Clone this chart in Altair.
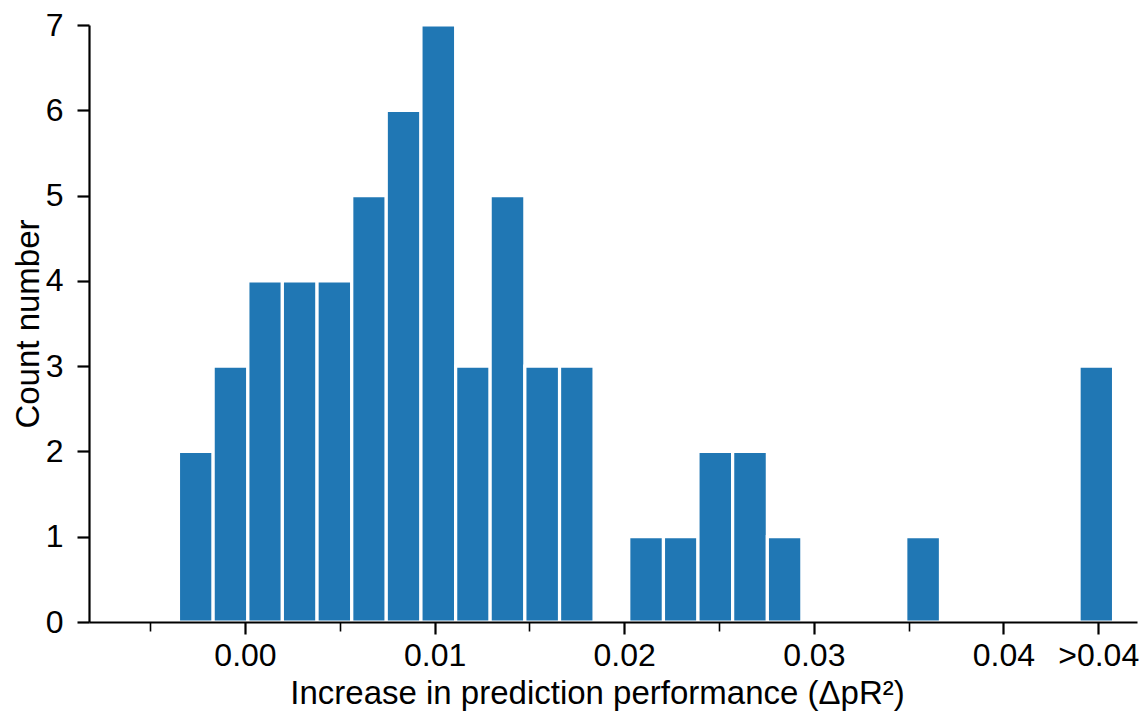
import altair as alt
import pandas as pd

# Histogram bin edges and counts per bin
bin_edges = [-0.00351, -0.00168, 0.00015, 0.00197, 0.00380, 0.00563, 0.00745, 0.00928,
             0.01111, 0.01293, 0.01476, 0.01659, 0.01841, 0.02024, 0.02207, 0.02389,
             0.02572, 0.02755, 0.02937, 0.03120, 0.03303, 0.03485, 0.03668, 0.03851,
             0.04033, 0.04216, 0.04399, 0.04581]
counts = [2, 3, 4, 4, 4, 5, 6, 7, 3, 5, 3, 3, 0, 1, 1, 2, 2, 1, 0, 0, 0, 1, 0, 0, 0, 0, 3]

x_tick_values = [-0.005, 0.0, 0.005, 0.01, 0.015, 0.02, 0.025, 0.03, 0.035, 0.04, 0.045]
overflow_label = ">0.04"
y_tick_values = [0, 1, 2, 3, 4, 5, 6, 7]

df = pd.DataFrame({"start": bin_edges[:-1], "end": bin_edges[1:], "count": counts})
df = df[df["count"] > 0]

FONT = "Liberation Sans"
major = "(abs(datum.value*100 - round(datum.value*100)) < 0.001) || (datum.value > 0.044)"

x_axis = alt.Axis(
    values=x_tick_values,
    labelExpr=f"datum.value > 0.044 ? '{overflow_label}' : ({major} ? format(datum.value, '.2f') : '')",
    title="Increase in prediction performance (\u0394pR\u00b2)",
    grid=False,
    tickSize={"condition": {"test": major, "value": 12}, "value": 9},
    tickWidth={"condition": {"test": major, "value": 2.2}, "value": 1.6},
    labelPadding=6,
    titlePadding=6,
    titleX=508,
    titleAlign="center",
    labelFlush=False,
    labelOverlap=False,
    zindex=1,
)

y_axis = alt.Axis(
    values=y_tick_values,
    format="d",
    title="Count number",
    grid=False,
    tickSize=12,
    tickWidth=2.2,
    labelPadding=14,
    titlePadding=0,
    labelFlush=False,
    zindex=1,
)

chart = alt.Chart(df).mark_bar(color="#2077b4", stroke="white", strokeWidth=3.2).encode(
    x=alt.X("start:Q", scale=alt.Scale(domain=[-0.008228, 0.047046], nice=False, zero=False), axis=x_axis),
    x2="end:Q",
    y=alt.Y("count:Q", scale=alt.Scale(domain=[0, 7], nice=False), axis=y_axis),
    y2=alt.datum(0),
).properties(
    width=1048,
    height=597,
    autosize=alt.AutoSizeParams(type="none"),
    padding={"left": 81, "top": 17, "right": 2, "bottom": 90},
    background="white",
).configure_view(
    stroke=None
).configure_axis(
    domainColor="black",
    domainWidth=2.2,
    tickColor="black",
    labelColor="black",
    titleColor="black",
    labelFont=FONT,
    titleFont=FONT,
    labelFontSize=32,
    titleFontSize=33,
    titleFontWeight="normal",
)

chart.save("out.html", embed_options={"renderer": "svg", "actions": False})
